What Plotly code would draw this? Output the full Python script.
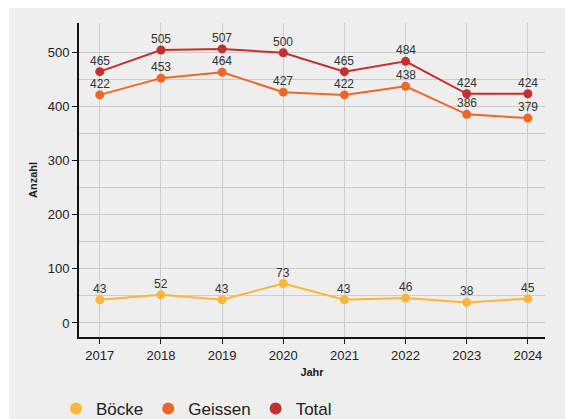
import plotly.graph_objects as go

years = [2017, 2018, 2019, 2020, 2021, 2022, 2023, 2024]
boecke = [43, 52, 43, 73, 43, 46, 38, 45]
geissen = [422, 453, 464, 427, 422, 438, 386, 379]
total = [465, 505, 507, 500, 465, 484, 424, 424]

names = ["Böcke", "Geissen", "Total"]
colors = ["#fcb63c", "#ef6727", "#c1312f"]
series = [boecke, geissen, total]

FONT = "Liberation Sans, Arial, sans-serif"

fig = go.Figure()
for name, col, vals in zip(names, colors, series):
    fig.add_trace(go.Scatter(
        x=years, y=vals, mode="lines+markers",
        name=name, showlegend=False,
        line=dict(color=col, width=2),
        marker=dict(color=col, size=9),
        cliponaxis=False,
    ))
    for xv, yv in zip(years, vals):
        fig.add_annotation(
            x=xv, y=yv, text=str(yv), showarrow=False,
            yanchor="middle", xanchor="center", yshift=11,
            font=dict(size=12, color="#333333", family=FONT),
        )
for name, col in zip(names, colors):
    fig.add_trace(go.Scatter(
        x=[None], y=[None], mode="markers", name=name,
        marker=dict(color=col, size=12),
    ))

# page has an 8px body margin; figure coordinates = screen - 8
W, H = 565, 411
L, R, T, B = 71, 28, 15, 82
pw, ph = W - L - R, H - T - B

def px_x(p):
    return (p - L) / pw

def px_y(p):
    return (H - B - p) / ph

fig.add_shape(type="rect", xref="paper", yref="paper",
              x0=px_x(1), x1=px_x(561), y0=px_y(H), y1=px_y(0),
              fillcolor="#eeeeee", line=dict(width=0), layer="below")

fig.update_layout(
    width=W, height=H,
    margin=dict(l=L, r=R, t=T, b=B, autoexpand=False),
    paper_bgcolor="white",
    plot_bgcolor="rgba(0,0,0,0)",
    font=dict(family=FONT, color="#222222"),
    legend=dict(orientation="h", xref="container", yref="container",
                x=48 / W, xanchor="left",
                y=(H - 401) / H, yanchor="middle",
                font=dict(size=17, color="#222222", family=FONT),
                bgcolor="rgba(0,0,0,0)", itemwidth=30,
                tracegroupgap=0),
)
fig.update_xaxes(
    range=[2016.66, 2024.28], automargin=False,
    tickvals=years, ticktext=[str(y) for y in years],
    showgrid=True, gridcolor="#cccccc", gridwidth=1,
    zeroline=False,
    showline=True, linecolor="#111111", linewidth=2,
    ticks="outside", ticklen=5, tickcolor="#111111", tickwidth=1,
    tickfont=dict(size=13, color="#222222", family=FONT),
    title=dict(text="<b>Jahr</b>", font=dict(size=11, color="#222222", family=FONT), standoff=7),
)
fig.update_yaxes(
    range=[-26, 555], automargin=False,
    tickvals=[0, 100, 200, 300, 400, 500],
    showgrid=True, gridcolor="#cccccc", gridwidth=1,
    minor=dict(tickvals=[50, 150, 250, 350, 450], showgrid=True, gridcolor="#cccccc", gridwidth=1),
    zeroline=False,
    showline=True, linecolor="#111111", linewidth=2,
    ticks="outside", ticklen=5, tickcolor="#111111", tickwidth=1,
    tickfont=dict(size=13, color="#222222", family=FONT),
    title=dict(text="<b>Anzahl</b>", font=dict(size=11, color="#222222", family=FONT), standoff=8),
)

fig.write_html("out.html")
